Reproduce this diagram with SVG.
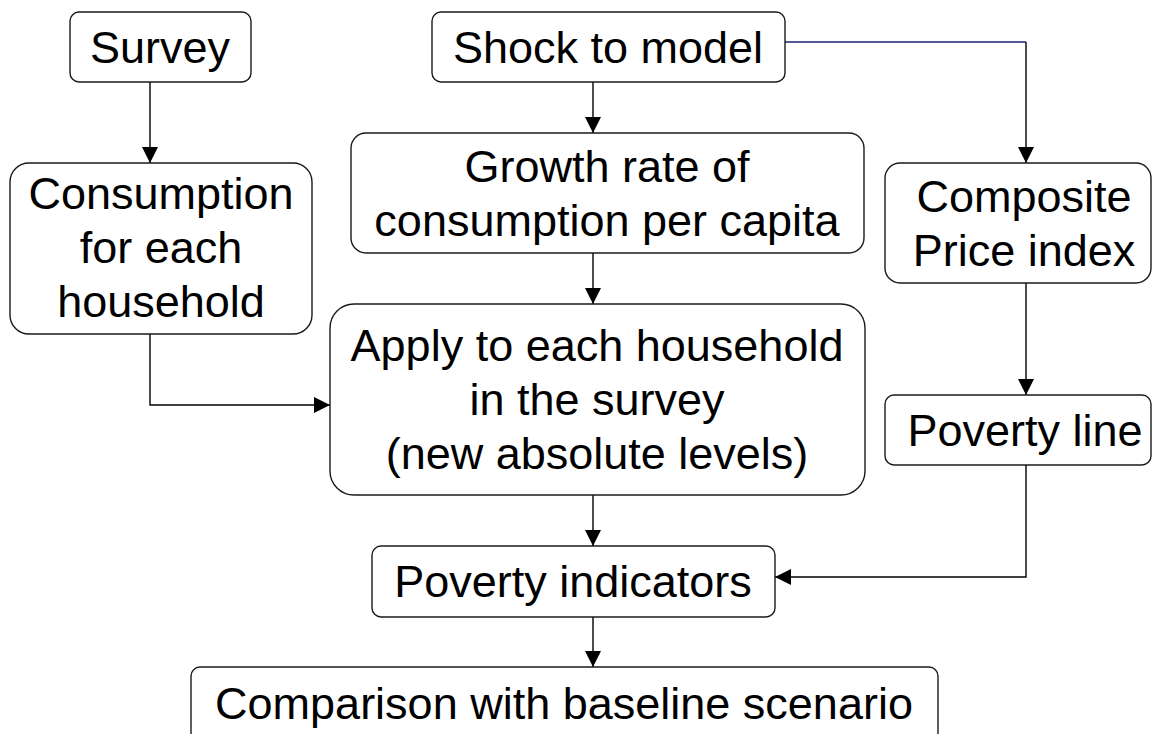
<svg xmlns="http://www.w3.org/2000/svg" width="1153" height="734" viewBox="0 0 1153 734">
<style>
.box{fill:#fff;stroke:#1a1a1a;stroke-width:1.4}
.t{font-family:"Liberation Sans",Arial,sans-serif;font-size:45px;fill:#000;text-anchor:middle}
.c{fill:none;stroke:#000;stroke-width:1.4}
.navy{stroke:#1c1c78}
</style>
<defs>
<marker id="ah" markerUnits="userSpaceOnUse" markerWidth="16" markerHeight="16" refX="16" refY="8" orient="auto">
<path d="M0,0 L16,8 L0,16 z" fill="#000"/>
</marker>
</defs>
<rect width="1153" height="734" fill="#fff"/>
<g id="connectors">
<path class="c" d="M150,82 V163" marker-end="url(#ah)"/>
<path class="c" d="M593,82 V133" marker-end="url(#ah)"/>
<path class="c navy" d="M785,42 H1026"/>
<path class="c" d="M1026,42 V163" marker-end="url(#ah)"/>
<path class="c" d="M593,253 V304" marker-end="url(#ah)"/>
<path class="c" d="M150,334 V405 H330" marker-end="url(#ah)"/>
<path class="c" d="M1026,283 V395" marker-end="url(#ah)"/>
<path class="c" d="M593,495 V546" marker-end="url(#ah)"/>
<path class="c" d="M1026,465 V577 H775" marker-end="url(#ah)"/>
<path class="c" d="M593,617 V667" marker-end="url(#ah)"/>
</g>
<g id="survey">
<rect class="box" x="70" y="12" width="181" height="70" rx="9"/>
<text class="t" x="160" y="63">Survey</text>
</g>
<g id="shock">
<rect class="box" x="432" y="12" width="353" height="70" rx="9"/>
<text class="t" x="608" y="63">Shock to model</text>
</g>
<g id="growth">
<rect class="box" x="351" y="133" width="513" height="120" rx="15"/>
<text class="t" x="607" y="182">Growth rate of</text>
<text class="t" x="607" y="236">consumption per capita</text>
</g>
<g id="consumption">
<rect class="box" x="10" y="163" width="302" height="171" rx="19"/>
<text class="t" x="161" y="209">Consumption</text>
<text class="t" x="161" y="263">for each</text>
<text class="t" x="161" y="317">household</text>
</g>
<g id="composite">
<rect class="box" x="885" y="163" width="266" height="120" rx="15"/>
<text class="t" x="1024" y="212">Composite</text>
<text class="t" x="1024" y="266">Price index</text>
</g>
<g id="apply">
<rect class="box" x="330" y="304" width="535" height="191" rx="24"/>
<text class="t" x="597" y="361">Apply to each household</text>
<text class="t" x="597" y="415">in the survey</text>
<text class="t" x="597" y="469">(new absolute levels)</text>
</g>
<g id="povertyline">
<rect class="box" x="885" y="395" width="266" height="70" rx="9"/>
<text class="t" x="1025" y="446">Poverty line</text>
</g>
<g id="indicators">
<rect class="box" x="372" y="546" width="403" height="71" rx="9"/>
<text class="t" x="573" y="597">Poverty indicators</text>
</g>
<g id="comparison">
<rect class="box" x="191" y="667" width="747" height="80" rx="9"/>
<text class="t" x="564" y="719">Comparison with baseline scenario</text>
</g>
</svg>
